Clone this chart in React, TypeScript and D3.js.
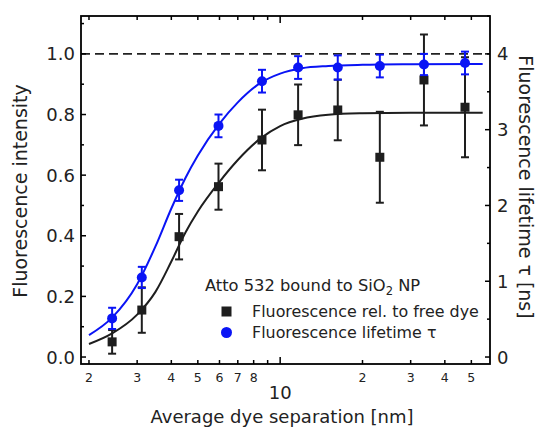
import React from "react";
import * as d3 from "d3";

// Average dye separation [nm]
const separation = [2.43, 3.12, 4.27, 5.95, 8.58, 11.63, 16.24, 23.14, 33.55, 47.4];
// Fluorescence relative to free dye (left axis)
const relFluor = [0.05, 0.155, 0.397, 0.562, 0.716, 0.799, 0.815, 0.659, 0.914, 0.824];
const relFluorErr = [0.039, 0.075, 0.075, 0.076, 0.1, 0.1, 0.1, 0.15, 0.15, 0.165];
// Fluorescence lifetime tau [ns] (right axis)
const lifetime = [0.51, 1.05, 2.2, 3.05, 3.64, 3.82, 3.82, 3.84, 3.86, 3.88];
const lifetimeErr = [0.14, 0.14, 0.14, 0.15, 0.15, 0.15, 0.16, 0.15, 0.14, 0.15];

// Fit curves
const fitX = [2.0, 2.43, 3.0, 3.5, 4.0, 4.5, 5.0, 6.0, 7.0, 8.5, 10, 12, 15, 20, 30, 55];
const fitRel = [0.043, 0.078, 0.14, 0.215, 0.315, 0.41, 0.48, 0.578, 0.65, 0.722, 0.762, 0.786, 0.799, 0.804, 0.806, 0.806];
const fitTau = [0.29, 0.52, 0.96, 1.46, 1.96, 2.36, 2.66, 3.08, 3.36, 3.62, 3.74, 3.81, 3.84, 3.856, 3.864, 3.868];

const leftTicks = [0, 0.2, 0.4, 0.6, 0.8, 1.0];
const leftMinor = [0.1, 0.3, 0.5, 0.7, 0.9, 1.1];
const rightTicks = [0, 1, 2, 3, 4];
const rightMinor = [0.5, 1.5, 2.5, 3.5, 4.5];
const xMinor = [2, 3, 4, 5, 6, 7, 8, 9, 20, 30, 40, 50];
const xMinorLabels = ["2", "3", "4", "5", "6", "7", "8", "", "2", "3", "4", "5"];
const xMajor = [10];

const FONT = "'DejaVu Sans', Verdana, sans-serif";
const BLUE = "#0a14f5";
const DARK = "#1e1e1e";

export default function App() {
  const L = 81, R = 490, T = 16, B = 364;
  const x = d3.scaleLog().domain([1.87, 58.5]).range([L, R]);
  const yL = d3.scaleLinear().domain([-0.023, 1.125]).range([B, T]);
  const yR = d3.scaleLinear().domain([-0.092, 4.5]).range([B, T]);

  const lineRel = d3
    .line<number>()
    .x((d, i) => x(fitX[i]))
    .y((d) => yL(d))
    .curve(d3.curveMonotoneX);
  const lineTau = d3
    .line<number>()
    .x((d, i) => x(fitX[i]))
    .y((d) => yR(d))
    .curve(d3.curveMonotoneX);

  const cap = 4;

  return (
    <svg width={541} height={429} style={{ position: "absolute", left: 0, top: 0, background: "#fff" }}>
      <rect x={0} y={0} width={541} height={429} fill="#fff" />
      {/* dashed reference line */}
      <line x1={L} x2={R} y1={yL(1)} y2={yL(1)} stroke="#222" strokeWidth={1.6} strokeDasharray="9,5" />

      {/* fit curves */}
      <path d={lineRel(fitRel) || ""} fill="none" stroke={DARK} strokeWidth={2} />
      <path d={lineTau(fitTau) || ""} fill="none" stroke={BLUE} strokeWidth={2} />

      {/* black error bars and squares */}
      {separation.map((s, i) => {
        const cx = x(s);
        const y0 = yL(relFluor[i] - relFluorErr[i]);
        const y1 = yL(relFluor[i] + relFluorErr[i]);
        return (
          <g key={"b" + i} stroke={DARK} strokeWidth={2}>
            <line x1={cx} x2={cx} y1={y0} y2={y1} />
            <line x1={cx - cap} x2={cx + cap} y1={y0} y2={y0} />
            <line x1={cx - cap} x2={cx + cap} y1={y1} y2={y1} />
            <rect x={cx - 4.5} y={yL(relFluor[i]) - 4.5} width={9} height={9} fill={DARK} stroke="none" />
          </g>
        );
      })}

      {/* blue error bars and circles */}
      {separation.map((s, i) => {
        const cx = x(s);
        const y0 = yR(lifetime[i] - lifetimeErr[i]);
        const y1 = yR(lifetime[i] + lifetimeErr[i]);
        return (
          <g key={"c" + i} stroke={BLUE} strokeWidth={2}>
            <line x1={cx} x2={cx} y1={y0} y2={y1} />
            <line x1={cx - cap} x2={cx + cap} y1={y0} y2={y0} />
            <line x1={cx - cap} x2={cx + cap} y1={y1} y2={y1} />
            <circle cx={cx} cy={yR(lifetime[i])} r={5} fill={BLUE} stroke="none" />
          </g>
        );
      })}

      {/* frame */}
      <rect x={L} y={T} width={R - L} height={B - T} fill="none" stroke="#000" strokeWidth={1.8} />

      {/* left axis ticks */}
      {leftTicks.map((t) => (
        <g key={"lt" + t}>
          <line x1={L} x2={L + 5} y1={yL(t)} y2={yL(t)} stroke="#000" strokeWidth={1.5} />
          <text x={75} y={yL(t)} dy="0.36em" textAnchor="end" fontFamily={FONT} fontSize={18} fill="#222">
            {t.toFixed(1)}
          </text>
        </g>
      ))}
      {leftMinor.map((t) => (
        <line key={"lm" + t} x1={L} x2={L + 3} y1={yL(t)} y2={yL(t)} stroke="#000" strokeWidth={1.5} />
      ))}

      {/* right axis ticks */}
      {rightTicks.map((t) => (
        <g key={"rt" + t}>
          <line x1={R} x2={R - 5} y1={yR(t)} y2={yR(t)} stroke="#000" strokeWidth={1.5} />
          <text x={497} y={yR(t)} dy="0.36em" textAnchor="start" fontFamily={FONT} fontSize={18} fill="#222">
            {t}
          </text>
        </g>
      ))}
      {rightMinor.map((t) => (
        <line key={"rm" + t} x1={R} x2={R - 3} y1={yR(t)} y2={yR(t)} stroke="#000" strokeWidth={1.5} />
      ))}

      {/* x axis ticks, bottom and top */}
      {xMinor.map((t, i) => (
        <g key={"xm" + t}>
          <line x1={x(t)} x2={x(t)} y1={B} y2={B - 4} stroke="#000" strokeWidth={1.5} />
          <line x1={x(t)} x2={x(t)} y1={T} y2={T + 4} stroke="#000" strokeWidth={1.5} />
          <text x={x(t)} y={381.5} textAnchor="middle" fontFamily={FONT} fontSize={12.5} fill="#222">
            {xMinorLabels[i]}
          </text>
        </g>
      ))}
      {xMajor.map((t) => (
        <g key={"xM" + t}>
          <line x1={x(t)} x2={x(t)} y1={B} y2={B - 7} stroke="#000" strokeWidth={1.5} />
          <line x1={x(t)} x2={x(t)} y1={T} y2={T + 7} stroke="#000" strokeWidth={1.5} />
          <text x={x(t)} y={399} textAnchor="middle" fontFamily={FONT} fontSize={18} fill="#222">
            {t}
          </text>
        </g>
      ))}

      {/* axis titles */}
      <text x={282} y={423} textAnchor="middle" fontFamily={FONT} fontSize={18} fill="#222">
        Average dye separation [nm]
      </text>
      <text
        transform={`translate(27,${(T + B) / 2 + 1}) rotate(-90)`}
        textAnchor="middle"
        fontFamily={FONT}
        fontSize={19}
        fill="#222"
      >
        Fluorescence intensity
      </text>
      <text
        transform={`translate(519,${(T + B) / 2 - 3}) rotate(90)`}
        textAnchor="middle"
        fontFamily={FONT}
        fontSize={19}
        fill="#222"
      >
        Fluorescence lifetime τ [ns]
      </text>

      {/* legend */}
      <text x={205} y={291} fontFamily={FONT} fontSize={16.3} fill="#222">
        Atto 532 bound to SiO<tspan fontSize={11.5} dy={4}>2</tspan>
        <tspan dy={-4}> NP</tspan>
      </text>
      <rect x={221.5} y={306.5} width={10} height={10} fill={DARK} />
      <text x={252} y={317} fontFamily={FONT} fontSize={15.9} fill="#222">
        Fluorescence rel. to free dye
      </text>
      <circle cx={226.5} cy={332.5} r={5.5} fill={BLUE} />
      <text x={252} y={338} fontFamily={FONT} fontSize={15.9} fill="#222">
        Fluorescence lifetime τ
      </text>
    </svg>
  );
}
